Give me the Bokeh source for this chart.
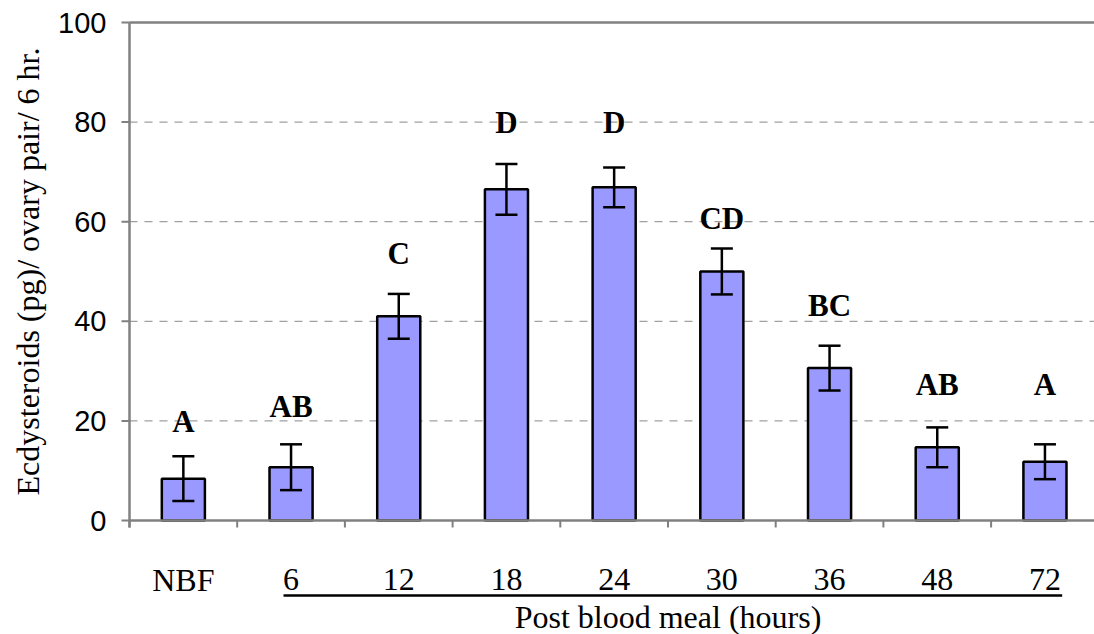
import math
from bokeh.plotting import figure
from bokeh.models import Range1d, Whisker, ColumnDataSource, TeeHead
from bokeh.core.properties import value
from bokeh.embed import file_html
from bokeh.resources import INLINE

categories = ["NBF", "6", "12", "18", "24", "30", "36", "48", "72"]
means = [8.4, 10.7, 41.0, 66.5, 66.9, 50.0, 30.6, 14.7, 11.8]
errors = [4.5, 4.6, 4.5, 5.1, 4.0, 4.6, 4.5, 4.0, 3.5]
letters = ["A", "AB", "C", "D", "D", "CD", "BC", "AB", "A"]
letter_y = [19.9, 22.8, 53.6, 80.0, 80.0, 60.7, 43.2, 27.3, 27.3]
y_ticks = [0, 20, 40, 60, 80, 100]
grid_ticks = [20, 40, 60, 80]

# layout constants (pixels)
W, H = 1094, 634
AXIS_PX = 129          # x pixel of the value axis
CAT_PX = 107.7         # pixel width of one category
X0 = -0.5              # data x of the value axis
XS = X0 - AXIS_PX / CAT_PX
XE = X0 + (W - AXIS_PX) / CAT_PX

x = list(range(len(categories)))
src = ColumnDataSource(dict(
    x=x, top=means,
    upper=[m + e for m, e in zip(means, errors)],
    lower=[m - e for m, e in zip(means, errors)],
    letters=letters, ly=letter_y, cat=categories,
))

AXIS_GRAY = "#808080"
SERIF = "Liberation Serif"

p = figure(width=W, height=H, output_backend="svg", toolbar_location=None,
           x_range=Range1d(XS, XE), y_range=Range1d(-22.89, 104.42),
           x_axis_location=None, y_axis_location=None,
           min_border_left=0, min_border_right=0, min_border_top=0, min_border_bottom=0)
p.outline_line_color = None
p.grid.visible = False
p.background_fill_color = "white"
p.border_fill_color = "white"

# dashed gridlines
n = len(grid_ticks)
p.segment(x0=[X0] * n, y0=grid_ticks, x1=[XE] * n, y1=grid_ticks,
          line_color="#A0A0A0", line_width=1.2, line_dash="8 7")

# bars
p.vbar(x="x", top="top", bottom=0, width=0.4, source=src,
       fill_color="#9999FF", line_color="black", line_width=2.5)

# top border, x-axis line, value axis line
p.segment(x0=[X0, X0, X0], y0=[100, 0, -1.4], x1=[XE, XE, X0], y1=[100, 0, 100],
          line_color=AXIS_GRAY, line_width=2.5)

# category boundary ticks
bounds_x = [i - 0.5 for i in range(len(categories) + 1)]
p.segment(x0=bounds_x, y0=[0] * len(bounds_x), x1=bounds_x, y1=[-1.4] * len(bounds_x),
          line_color=AXIS_GRAY, line_width=2)

# value axis ticks and labels
m = len(y_ticks)
p.segment(x0=[X0 - 8 / CAT_PX] * m, y0=y_ticks, x1=[X0] * m, y1=y_ticks,
          line_color=AXIS_GRAY, line_width=2)
p.text(x=[X0 - 23 / CAT_PX] * m, y=y_ticks, text=[str(t) for t in y_ticks],
       text_font=value("Liberation Sans"), text_font_size="29px",
       text_align="right", text_baseline="middle", text_color="black")

# value axis title
p.text(x=[X0 - (AXIS_PX - 27) / CAT_PX], y=[(y_ticks[0] + y_ticks[-1]) / 2],
       text=["Ecdysteroids (pg)/ ovary pair/ 6 hr."], angle=math.pi / 2,
       text_font=value("serif"), text_font_size="32px", text_align="center",
       text_baseline="middle", text_color="black")

# error bars
w = Whisker(base="x", upper="upper", lower="lower", source=src,
            line_color="black", line_width=2.5, level="overlay",
            upper_head=TeeHead(size=22, line_color="black", line_width=2.5),
            lower_head=TeeHead(size=22, line_color="black", line_width=2.5))
p.add_layout(w)

# significance letters
p.text(x="x", y="ly", text="letters", source=src, text_font=value(SERIF),
       text_font_style="bold", text_font_size="31px", text_align="center",
       text_baseline="middle", text_color="black")

# x category labels
p.text(x="x", y=-11.85, text="cat", source=src, text_font=value(SERIF),
       text_font_size="32px", text_align="center", text_baseline="middle",
       text_color="black")

# underline under post-blood-meal categories
p.segment(x0=[1 - 0.07], y0=[-15.06], x1=[len(categories) - 1 + 0.16], y1=[-15.06],
          line_color="black", line_width=2.5)

# x title
p.text(x=[(1 + len(categories) - 1) / 2], y=[-19.3], text=["Post blood meal (hours)"],
       text_font=value(SERIF), text_font_size="32px", text_align="center",
       text_baseline="middle", text_color="black")

open("out.html", "w").write(file_html(p, INLINE))
